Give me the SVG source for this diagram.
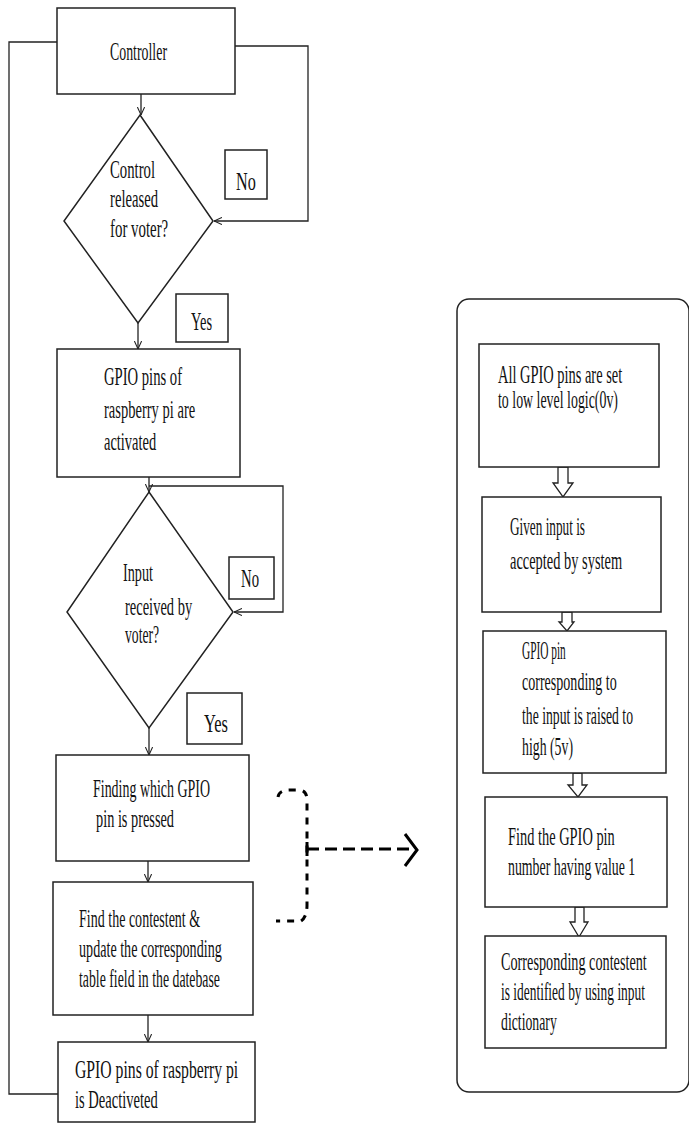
<svg xmlns="http://www.w3.org/2000/svg" width="689" height="1124" viewBox="0 0 689 1124">
<defs>
<style>
.box{fill:#fff;stroke:#222;stroke-width:1.5}
.ln{fill:none;stroke:#222;stroke-width:1.3}
.t{font-family:"Liberation Serif",serif;font-size:25px;fill:#111}
.harrow{fill:#fff;stroke:#222;stroke-width:1.3}
.dash{fill:none;stroke:#000;stroke-width:3}
</style>
<marker id="ah" viewBox="0 0 10 10" refX="10" refY="5" markerWidth="8" markerHeight="8" orient="auto" markerUnits="userSpaceOnUse">
<path d="M0,0.5 L10,5 L0,9.5" fill="none" stroke="#222" stroke-width="1.3"/>
</marker>
</defs>
<rect width="689" height="1124" fill="#fff"/>

<g id="connectors">
<line class="ln" x1="141" y1="94" x2="141" y2="115" marker-end="url(#ah)"/>
<path class="ln" d="M235,46 L308,46 L308,221 L214,221" marker-end="url(#ah)"/>
<path class="ln" d="M58,1094 L9,1094 L9,42 L57,42"/>
<line class="ln" x1="138" y1="323" x2="138" y2="349" marker-end="url(#ah)"/>
<line class="ln" x1="149" y1="477" x2="149" y2="492" marker-end="url(#ah)"/>
<path class="ln" d="M149,486 L283,486 L283,612 L234,612" marker-end="url(#ah)"/>
<line class="ln" x1="149" y1="728" x2="149" y2="755" marker-end="url(#ah)"/>
<line class="ln" x1="148" y1="861" x2="148" y2="882" marker-end="url(#ah)"/>
<line class="ln" x1="148" y1="1015" x2="148" y2="1042" marker-end="url(#ah)"/>
<path class="dash" d="M278,797 Q279,790 290,790 L300,790 Q307,791 307,800 L307,905 Q307,917 301,921 L276,921" stroke-dasharray="7 7"/>
<line class="dash" x1="307" y1="842" x2="307" y2="856"/>
<line class="dash" x1="307" y1="849" x2="414" y2="849" stroke-dasharray="12 6"/>
<path class="dash" d="M405,834 L417,850 L405,866"/>
<polygon class="harrow" points="558,467 568,467 568,483 573,483 563,497 553,483 558,483"/>
<polygon class="harrow" points="562,612 572,612 572,622 574,622 567,631 559,622 562,622"/>
<polygon class="harrow" points="573,773 582,773 582,785 587,785 578,797 568,785 573,785"/>
<polygon class="harrow" points="575,907 584,907 584,922 588,922 579,937 570,922 575,922"/>
</g>

<g id="controller">
<rect class="box" x="57" y="8" width="178" height="86"/>
<text class="t" transform="translate(110,60) scale(0.6,1)" textLength="95" lengthAdjust="spacingAndGlyphs">Controller</text>
</g>
<g id="decision1">
<polygon class="box" points="140,115 213,221 138,323 64,221"/>
<text class="t" transform="translate(110,178) scale(0.6,1)" textLength="75" lengthAdjust="spacingAndGlyphs">Control</text>
<text class="t" transform="translate(110,207) scale(0.6,1)" textLength="80" lengthAdjust="spacingAndGlyphs">released</text>
<text class="t" transform="translate(110,237) scale(0.6,1)" textLength="97" lengthAdjust="spacingAndGlyphs">for voter?</text>
</g>
<g id="no1">
<rect class="box" x="225" y="150" width="42" height="49"/>
<text class="t" transform="translate(236,190) scale(0.6,1)" textLength="33" lengthAdjust="spacingAndGlyphs">No</text>
</g>
<g id="yes1">
<rect class="box" x="176" y="294" width="52" height="48"/>
<text class="t" transform="translate(191,330) scale(0.6,1)" textLength="35" lengthAdjust="spacingAndGlyphs">Yes</text>
</g>
<g id="activate">
<rect class="box" x="57" y="349" width="183" height="128"/>
<text class="t" transform="translate(104,385) scale(0.6,1)" textLength="130" lengthAdjust="spacingAndGlyphs">GPIO pins of</text>
<text class="t" transform="translate(104,418) scale(0.6,1)" textLength="152" lengthAdjust="spacingAndGlyphs">raspberry pi are</text>
<text class="t" transform="translate(104,450) scale(0.6,1)" textLength="87" lengthAdjust="spacingAndGlyphs">activated</text>
</g>
<g id="decision2">
<polygon class="box" points="149,492 233,612 149,728 67,612"/>
<text class="t" transform="translate(123,581) scale(0.6,1)" textLength="50" lengthAdjust="spacingAndGlyphs">Input</text>
<text class="t" transform="translate(125,615) scale(0.6,1)" textLength="112" lengthAdjust="spacingAndGlyphs">received by</text>
<text class="t" transform="translate(125,643) scale(0.6,1)" textLength="57" lengthAdjust="spacingAndGlyphs">voter?</text>
</g>
<g id="no2">
<rect class="box" x="229" y="557" width="45" height="42"/>
<text class="t" transform="translate(241,587) scale(0.6,1)" textLength="30" lengthAdjust="spacingAndGlyphs">No</text>
</g>
<g id="yes2">
<rect class="box" x="187" y="693" width="55" height="51"/>
<text class="t" transform="translate(204,732) scale(0.6,1)" textLength="40" lengthAdjust="spacingAndGlyphs">Yes</text>
</g>
<g id="finding">
<rect class="box" x="56" y="755" width="193" height="106"/>
<text class="t" transform="translate(93,797) scale(0.6,1)" textLength="195" lengthAdjust="spacingAndGlyphs">Finding which GPIO</text>
<text class="t" transform="translate(96,827) scale(0.6,1)" textLength="130" lengthAdjust="spacingAndGlyphs">pin is pressed</text>
</g>
<g id="update">
<rect class="box" x="53" y="882" width="200" height="133"/>
<text class="t" transform="translate(79,927) scale(0.6,1)" textLength="202" lengthAdjust="spacingAndGlyphs">Find the contestent &amp;</text>
<text class="t" transform="translate(79,957) scale(0.6,1)" textLength="238" lengthAdjust="spacingAndGlyphs">update the corresponding</text>
<text class="t" transform="translate(79,987) scale(0.6,1)" textLength="235" lengthAdjust="spacingAndGlyphs">table field in the datebase</text>
</g>
<g id="deactivate">
<rect class="box" x="58" y="1042" width="197" height="80"/>
<text class="t" transform="translate(75,1078) scale(0.6,1)" textLength="272" lengthAdjust="spacingAndGlyphs">GPIO pins of raspberry pi</text>
<text class="t" transform="translate(75,1108) scale(0.6,1)" textLength="138" lengthAdjust="spacingAndGlyphs">is Deactiveted</text>
</g>

<g id="detail-panel">
<rect x="457" y="299" width="232" height="793" rx="12" fill="none" stroke="#222" stroke-width="1.5"/>
</g>
<g id="setlow">
<rect class="box" x="479" y="344" width="180" height="123"/>
<text class="t" transform="translate(498,383) scale(0.6,1)" textLength="207" lengthAdjust="spacingAndGlyphs">All GPIO pins are set</text>
<text class="t" transform="translate(498,408) scale(0.6,1)" textLength="200" lengthAdjust="spacingAndGlyphs">to low level logic(0v)</text>
</g>
<g id="accepted">
<rect class="box" x="482" y="497" width="179" height="115"/>
<text class="t" transform="translate(510,535) scale(0.6,1)" textLength="125" lengthAdjust="spacingAndGlyphs">Given input is</text>
<text class="t" transform="translate(510,569) scale(0.6,1)" textLength="187" lengthAdjust="spacingAndGlyphs">accepted by system</text>
</g>
<g id="raised">
<rect class="box" x="483" y="631" width="183" height="142"/>
<text class="t" transform="translate(522,659) scale(0.6,1)" textLength="73" lengthAdjust="spacingAndGlyphs">GPIO pin</text>
<text class="t" transform="translate(522,690) scale(0.6,1)" textLength="158" lengthAdjust="spacingAndGlyphs">corresponding to</text>
<text class="t" transform="translate(522,724) scale(0.6,1)" textLength="185" lengthAdjust="spacingAndGlyphs">the input is raised to</text>
<text class="t" transform="translate(522,755) scale(0.6,1)" textLength="85" lengthAdjust="spacingAndGlyphs">high (5v)</text>
</g>
<g id="findpin">
<rect class="box" x="485" y="797" width="182" height="110"/>
<text class="t" transform="translate(508,845) scale(0.6,1)" textLength="178" lengthAdjust="spacingAndGlyphs">Find the GPIO pin</text>
<text class="t" transform="translate(508,875) scale(0.6,1)" textLength="212" lengthAdjust="spacingAndGlyphs">number having value 1</text>
</g>
<g id="identified">
<rect class="box" x="485" y="936" width="181" height="112"/>
<text class="t" transform="translate(501,970) scale(0.6,1)" textLength="243" lengthAdjust="spacingAndGlyphs">Corresponding contestent</text>
<text class="t" transform="translate(501,1000) scale(0.6,1)" textLength="240" lengthAdjust="spacingAndGlyphs">is identified by using input</text>
<text class="t" transform="translate(501,1030) scale(0.6,1)" textLength="93" lengthAdjust="spacingAndGlyphs">dictionary</text>
</g>
</svg>
